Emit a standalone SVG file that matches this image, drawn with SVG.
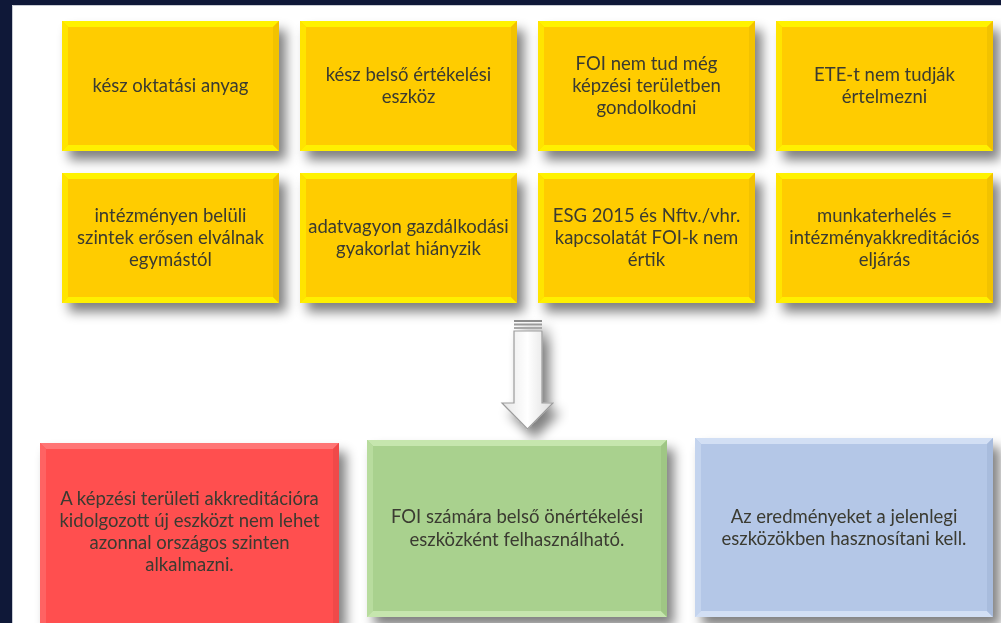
<svg xmlns="http://www.w3.org/2000/svg" xmlns:xlink="http://www.w3.org/1999/xlink" width="1001" height="623" viewBox="0 0 1001 623">
<style>
  text { font-family: Lato, "Open Sans", "Liberation Sans", sans-serif; font-size: 18.5px; fill: #3a3a30; text-anchor: middle; }
  .yf { fill: #FFCC00; }
  .yt { fill: #FFF200; }
  .yl { fill: #FFE400; }
  .yb { fill: #FFF000; }
  .yr { fill: #F2C200; }
</style>
<defs>
  <filter id="sh" x="-20%" y="-20%" width="150%" height="150%">
    <feGaussianBlur in="SourceAlpha" stdDeviation="6"/>
    <feOffset dx="7" dy="9" result="b"/>
    <feComponentTransfer><feFuncA type="linear" slope="0.5"/></feComponentTransfer>
    <feMerge><feMergeNode/><feMergeNode in="SourceGraphic"/></feMerge>
  </filter>
  <linearGradient id="ag" x1="0" y1="0" x2="1" y2="0">
    <stop offset="0" stop-color="#e6e6e6"/>
    <stop offset="0.5" stop-color="#ffffff"/>
    <stop offset="1" stop-color="#dcdcdc"/>
  </linearGradient>
  <g id="ybox">
    <rect class="yf" x="0" y="0" width="217" height="130"/>
    <polygon class="yt" points="0,0 217,0 211,6 6,6"/>
    <polygon class="yl" points="0,0 6,6 6,124 0,130"/>
    <polygon class="yb" points="0,130 6,124 211,124 217,130"/>
    <polygon class="yr" points="217,0 217,130 211,124 211,6"/>
  </g>
</defs>
<rect x="0" y="0" width="1001" height="623" fill="#0f1838"/>
<rect x="12" y="5" width="989" height="618" fill="#ffffff"/>
<path d="M12.5,623 V5.5 H1001" fill="none" stroke="#c8ccd4" stroke-width="1"/>

<g id="n1" filter="url(#sh)"><use xlink:href="#ybox" x="62" y="21"/><text x="170.5" y="92">kész oktatási anyag</text></g>
<g id="n2" filter="url(#sh)"><use xlink:href="#ybox" x="300" y="21"/><text x="408.5" y="81">kész belső értékelési</text><text x="408.5" y="103">eszköz</text></g>
<g id="n3" filter="url(#sh)"><use xlink:href="#ybox" x="538" y="21"/><text x="646.5" y="70">FOI nem tud még</text><text x="646.5" y="92">képzési területben</text><text x="646.5" y="114">gondolkodni</text></g>
<g id="n4" filter="url(#sh)"><use xlink:href="#ybox" x="776" y="21"/><text x="884.5" y="81">ETE-t nem tudják</text><text x="884.5" y="103">értelmezni</text></g>

<g id="n5" filter="url(#sh)"><use xlink:href="#ybox" x="62" y="173"/><text x="170.5" y="222">intézményen belüli</text><text x="170.5" y="244">szintek erősen elválnak</text><text x="170.5" y="266">egymástól</text></g>
<g id="n6" filter="url(#sh)"><use xlink:href="#ybox" x="300" y="173"/><text x="408.5" y="233">adatvagyon gazdálkodási</text><text x="408.5" y="255">gyakorlat hiányzik</text></g>
<g id="n7" filter="url(#sh)"><use xlink:href="#ybox" x="538" y="173"/><text x="646.5" y="222">ESG 2015 és Nftv./vhr.</text><text x="646.5" y="244">kapcsolatát FOI-k nem</text><text x="646.5" y="266">értik</text></g>
<g id="n8" filter="url(#sh)"><use xlink:href="#ybox" x="776" y="173"/><text x="884.5" y="222">munkaterhelés =</text><text x="884.5" y="244">intézményakkreditációs</text><text x="884.5" y="266">eljárás</text></g>

<g id="connectors">
  <g id="arrow" filter="url(#sh)">
    <rect x="514" y="320" width="28" height="2" fill="#8c8c8c"/>
    <rect x="514" y="323.5" width="28" height="2" fill="#9a9a9a"/>
    <rect x="514" y="327" width="28" height="2" fill="#a8a8a8"/>
    <polygon points="514,331 542,331 542,403 553,403 527.5,429 502,403 514,403" fill="url(#ag)" stroke="#9c9c9c" stroke-width="1.2"/>
  </g>
</g>

<g id="n9" filter="url(#sh)">
  <rect x="40" y="443" width="299" height="180" fill="#FF5050"/>
  <polygon points="40,443 339,443 333,449 46,449" fill="#FF7474"/>
  <polygon points="40,443 46,449 46,623 40,623" fill="#FF6464"/>
  <polygon points="339,443 339,623 333,623 333,449" fill="#F04848"/>
  <text x="189.5" y="505">A képzési területi akkreditációra</text>
  <text x="189.5" y="527">kidolgozott új eszközt nem lehet</text>
  <text x="189.5" y="549">azonnal országos szinten</text>
  <text x="189.5" y="571">alkalmazni.</text>
</g>
<g id="n10" filter="url(#sh)">
  <rect x="367" y="440" width="300" height="177" fill="#A9D18E"/>
  <polygon points="367,440 667,440 661,446 373,446" fill="#C6E6AE"/>
  <polygon points="367,440 373,446 373,611 367,617" fill="#B8DC9E"/>
  <polygon points="367,617 373,611 661,611 667,617" fill="#C6E6AE"/>
  <polygon points="667,440 667,617 661,611 661,446" fill="#9FC684"/>
  <text x="517" y="523">FOI számára belső önértékelési</text>
  <text x="517" y="546">eszközként felhasználható.</text>
</g>
<g id="n11" filter="url(#sh)">
  <rect x="695" y="438" width="298" height="179" fill="#B4C7E7"/>
  <polygon points="695,438 993,438 987,444 701,444" fill="#D2DFF4"/>
  <polygon points="695,438 701,444 701,611 695,617" fill="#C4D4EE"/>
  <polygon points="695,617 701,611 987,611 993,617" fill="#D2DFF4"/>
  <polygon points="993,438 993,617 987,611 987,444" fill="#A8BCDD"/>
  <text x="844" y="523">Az eredményeket a jelenlegi</text>
  <text x="844" y="545">eszközökben hasznosítani kell.</text>
</g>
</svg>
